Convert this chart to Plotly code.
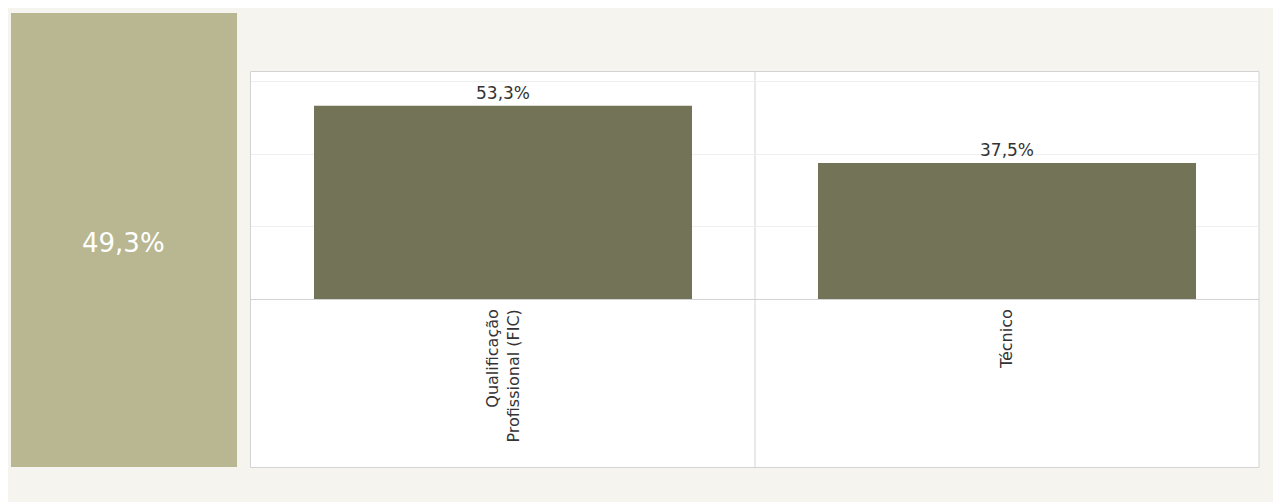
import plotly.graph_objects as go

categories = ["Qualificação<br>Profissional (FIC)", "Técnico"]
values = [53.3, 37.5]
kpi_value = 49.3
y_ticks = [0, 20, 40, 60]

def fmt(v):
    return f"{v:.1f}%".replace(".", ",")

FONT = "DejaVu Sans"
BAR = "#737358"
KPI = "#b8b792"
BG = "#f5f4ee"
BORDER = "#d3d3d3"

fig = go.Figure()
fig.add_trace(go.Bar(
    x=categories, y=values,
    marker=dict(color=BAR, line=dict(width=0)),
    text=[fmt(v) for v in values],
    textposition="outside",
    textfont=dict(family=FONT, size=17, color="#333333"),
    cliponaxis=False,
    hoverinfo="skip",
))

# page offset of the figure (browser body margin)
OFF = 8
W, H = 1281 - OFF, 502 - OFF
L, R, T, B = 251 - OFF, 22, 71 - OFF, 203
pw = W - L - R
ph = H - T - B

def px_x(x):
    return (x - OFF - L) / pw

def px_y(y):
    return (H - B - (y - OFF)) / ph

shapes = [
    dict(type="rect", xref="paper", yref="paper", layer="below",
         x0=px_x(11), x1=px_x(237), y0=px_y(467), y1=px_y(13),
         fillcolor=KPI, line=dict(width=0)),
    dict(type="rect", xref="paper", yref="paper", layer="below",
         x0=px_x(250.5), x1=px_x(1259), y0=px_y(467.5), y1=px_y(71.5),
         fillcolor="white", line=dict(color=BORDER, width=1)),
    dict(type="line", xref="x", yref="paper", layer="below",
         x0=0.5, x1=0.5, y0=px_y(467.5), y1=px_y(71.5),
         line=dict(color=BORDER, width=1)),
]

fig.update_layout(
    width=W, height=H,
    margin=dict(l=L, r=R, t=T, b=B, pad=0),
    paper_bgcolor=BG,
    plot_bgcolor="rgba(0,0,0,0)",
    showlegend=False,
    bargap=0.25,
    shapes=shapes,
    font=dict(family=FONT, color="#333333"),
    annotations=[dict(
        xref="paper", yref="paper",
        x=px_x(123), y=px_y(243),
        text=fmt(kpi_value), showarrow=False,
        font=dict(family=FONT, size=26, color="white"),
        xanchor="center", yanchor="middle",
    )],
)
fig.update_xaxes(
    type="category",
    tickangle=-90,
    tickfont=dict(family=FONT, size=16, color="#333333"),
    showgrid=False, zeroline=False, showline=False, ticks="",
    ticklabelstandoff=6,
)
fig.update_yaxes(
    range=[0, 62.9],
    tickvals=y_ticks,
    showticklabels=False,
    showgrid=True, gridcolor="#efefef", gridwidth=1,
    zeroline=True, zerolinecolor=BORDER, zerolinewidth=1,
    showline=False, ticks="",
)

fig.write_html("out.html")
